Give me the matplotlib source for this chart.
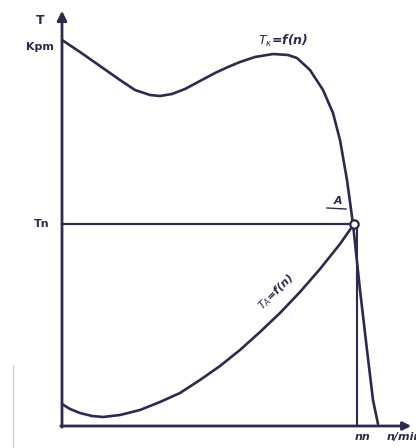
import numpy as np
import matplotlib.pyplot as plt

# Speed n and torque T in drawing units (origin at the axes crossing)
tk_n = [0, 18, 38, 58, 73, 88, 98, 110, 123, 138, 153, 166, 178, 193, 211, 226,
        235, 248, 261, 271, 278, 285, 291, 298, 305, 311, 316]
tk_T = [386, 374, 360, 346, 336, 331, 330, 332, 337, 345, 353, 359, 364, 369, 372, 371,
        368, 356, 336, 313, 286, 246, 202, 136, 76, 26, 2]

ta_n = [0, 8, 18, 30, 41, 58, 78, 98, 118, 138, 158, 178, 198, 218, 238, 258, 278, 292]
ta_T = [22, 17, 13, 10, 9, 11, 16, 24, 33, 46, 60, 76, 94, 113, 134, 157, 182, 202]

n_nom = 292
T_nom = 202

color = '#2b2b4e'

fig = plt.figure(figsize=(4.16, 4.48), dpi=100)
ax = fig.add_axes([0, 0, 1, 1])
ax.set_xlim(-62, 354)
ax.set_ylim(-22, 426)
ax.axis('off')

# axes with arrows
ax.annotate('', xy=(0, 418), xytext=(0, -4),
            arrowprops=dict(arrowstyle='-|>', color=color, lw=2, mutation_scale=14))
ax.annotate('', xy=(352, 0), xytext=(-4, 0),
            arrowprops=dict(arrowstyle='-|>', color=color, lw=2, mutation_scale=12))

# faint scan edge on the left
ax.plot([-49, -49], [-22, 61], color='#c8cce8', lw=1)

# torque curves
ax.plot(tk_n, tk_T, color=color, lw=1.9, solid_capstyle='round', solid_joinstyle='round')
ax.plot(ta_n, ta_T, color=color, lw=1.9, solid_capstyle='round', solid_joinstyle='round')

# nominal torque and speed lines
ax.plot([0, n_nom], [T_nom, T_nom], color=color, lw=1.6)
ax.plot([n_nom + 3, n_nom + 3], [T_nom, 0], color=color, lw=1.5)
ax.plot([n_nom], [T_nom], 'o', ms=6, mfc='white', mec=color, mew=1.6)

# point A with a short underline
ax.text(n_nom - 16, T_nom + 18, 'A', color=color, fontsize=8, fontweight='bold',
        style='italic', ha='center', va='bottom')
ax.plot([n_nom - 27, n_nom - 8], [T_nom + 16, T_nom + 15], color=color, lw=1)

# labels
ax.text(-22, 406, 'T', color=color, fontsize=9, fontweight='bold', ha='center', va='center')
ax.text(-22, 379, 'Kpm', color=color, fontsize=8, fontweight='bold', ha='center', va='center')
ax.text(-20, T_nom, 'Tn', color=color, fontsize=8, fontweight='bold', ha='center', va='center')
ax.text(221, 385, r'$T_{\kappa}$=f(n)', color=color, fontsize=9, fontweight='bold',
        style='italic', ha='center', va='center')
ax.text(214, 134, r'$T_{A}$=f(n)', color=color, fontsize=8, fontweight='bold',
        style='italic', ha='center', va='center', rotation=45)
ax.text(n_nom + 9, -11, 'nn', color=color, fontsize=8, fontweight='bold',
        style='italic', ha='center', va='center')
ax.text(325, -11, 'n/min', color=color, fontsize=8, fontweight='bold',
        style='italic', ha='left', va='center', clip_on=False)

fig.savefig('out.png', dpi=100)
